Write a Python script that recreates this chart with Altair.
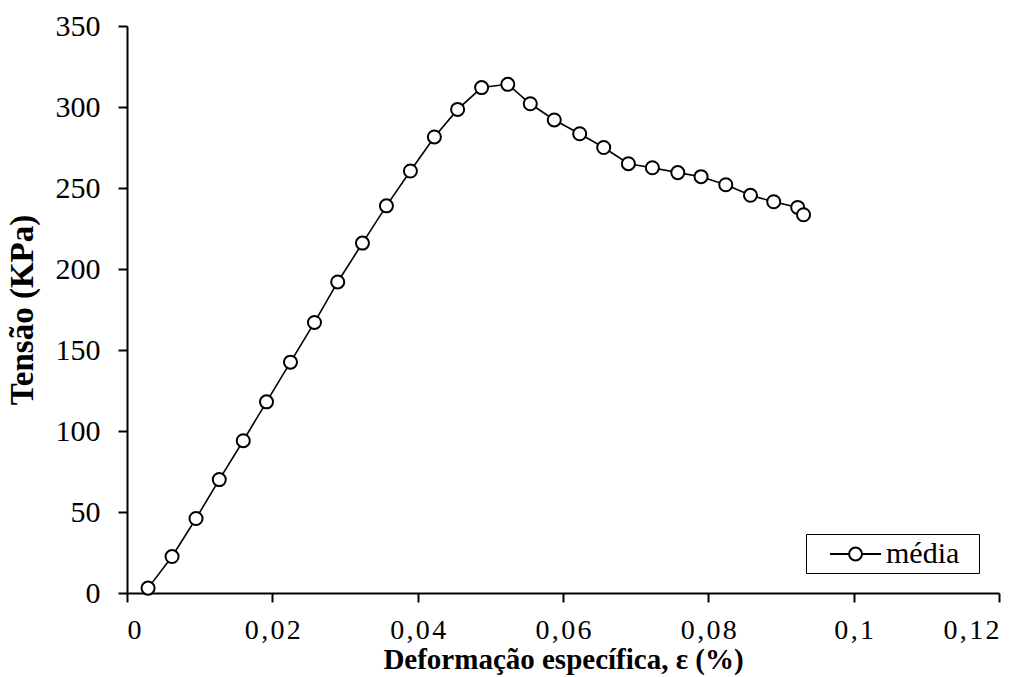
import altair as alt
import pandas as pd

deformacao = [0.0029, 0.0062, 0.0095, 0.0127, 0.0160, 0.0192, 0.0225, 0.0258, 0.0290,
              0.0324, 0.0357, 0.0390, 0.0423, 0.0455, 0.0488, 0.0524, 0.0555, 0.0588,
              0.0623, 0.0656, 0.0690, 0.0723, 0.0758, 0.0790, 0.0824, 0.0858, 0.0890,
              0.0923, 0.0931]
tensao = [3, 22.5, 46, 70, 94, 118, 142.5, 167, 192, 216, 239, 260.5, 281.5, 298.5,
          312, 314, 302, 292, 283.5, 275, 265, 262.5, 259.5, 257, 252, 245.5, 241.5,
          238, 233.5]
serie = ["média"] * len(tensao)

df = pd.DataFrame({"x": deformacao, "y": tensao, "serie": serie, "ordem": list(range(len(tensao)))})

FONT = "Liberation Serif"
# legend glyph: line with open circle (unit = 15 px for symbolSize 900)
legend_path = ("M0.27,0L1.54,0M2.4,0L3.67,0M1.54,0A0.43,0.43,0,1,1,2.4,0"
               "A0.43,0.43,0,1,1,1.54,0Z")

x_enc = alt.X("x:Q", scale=alt.Scale(domain=[0, 0.12], nice=False),
              axis=alt.Axis(values=[0, 0.02, 0.04, 0.06, 0.08, 0.1, 0.12],
                            labelExpr="join(split(replace(format(datum.value, '~g'), '.', ','), ''), '\u200a')",
                            title="Deformação específica, ε (%)"))
y_enc = alt.Y("y:Q", scale=alt.Scale(domain=[0, 350], nice=False),
              axis=alt.Axis(values=[0, 50, 100, 150, 200, 250, 300, 350], title="Tensão (KPa)"))

line = alt.Chart(df).mark_line(color="black", strokeWidth=1.6).encode(
    x=x_enc, y=y_enc, order="ordem:Q")

points = alt.Chart(df).mark_point(filled=False, fill="white", fillOpacity=1, size=170,
                                  strokeWidth=2, opacity=1).encode(
    x=x_enc, y=y_enc,
    color=alt.Color("serie:N", scale=alt.Scale(range=["black"]),
                    legend=alt.Legend(title=None, orient="none", legendX=679, legendY=508,
                                      symbolType=legend_path, symbolSize=900,
                                      symbolFillColor="white", symbolStrokeColor="black",
                                      symbolStrokeWidth=2, symbolOpacity=1,
                                      labelExpr="datum.label + '\u2002\u200b'",
                                      labelFont=FONT, labelFontSize=30, labelColor="black",
                                      strokeColor="black", padding=4, labelOffset=44,
                                      fillColor="white")),
)

chart = (line + points).properties(
    width=872, height=567,
    autosize=alt.AutoSizeParams(type="none"),
    padding={"left": 127, "top": 26, "right": 35, "bottom": 84},
).configure_view(stroke=None).configure_axis(
    domainColor="black", domainWidth=2, tickColor="black", tickWidth=2, tickSize=9,
    grid=False, labelFont=FONT, labelFontSize=30, labelColor="black",
    titleFont=FONT, titleFontWeight="bold", titleColor="black",
).configure_axisY(
    labelPadding=18, titleFontSize=33, titlePadding=16,
).configure_axisX(
    labelPadding=14, labelFontSize=28, titleFontSize=29, titlePadding=1,
)

chart.save("out.html", embed_options={"renderer": "svg", "actions": False})
